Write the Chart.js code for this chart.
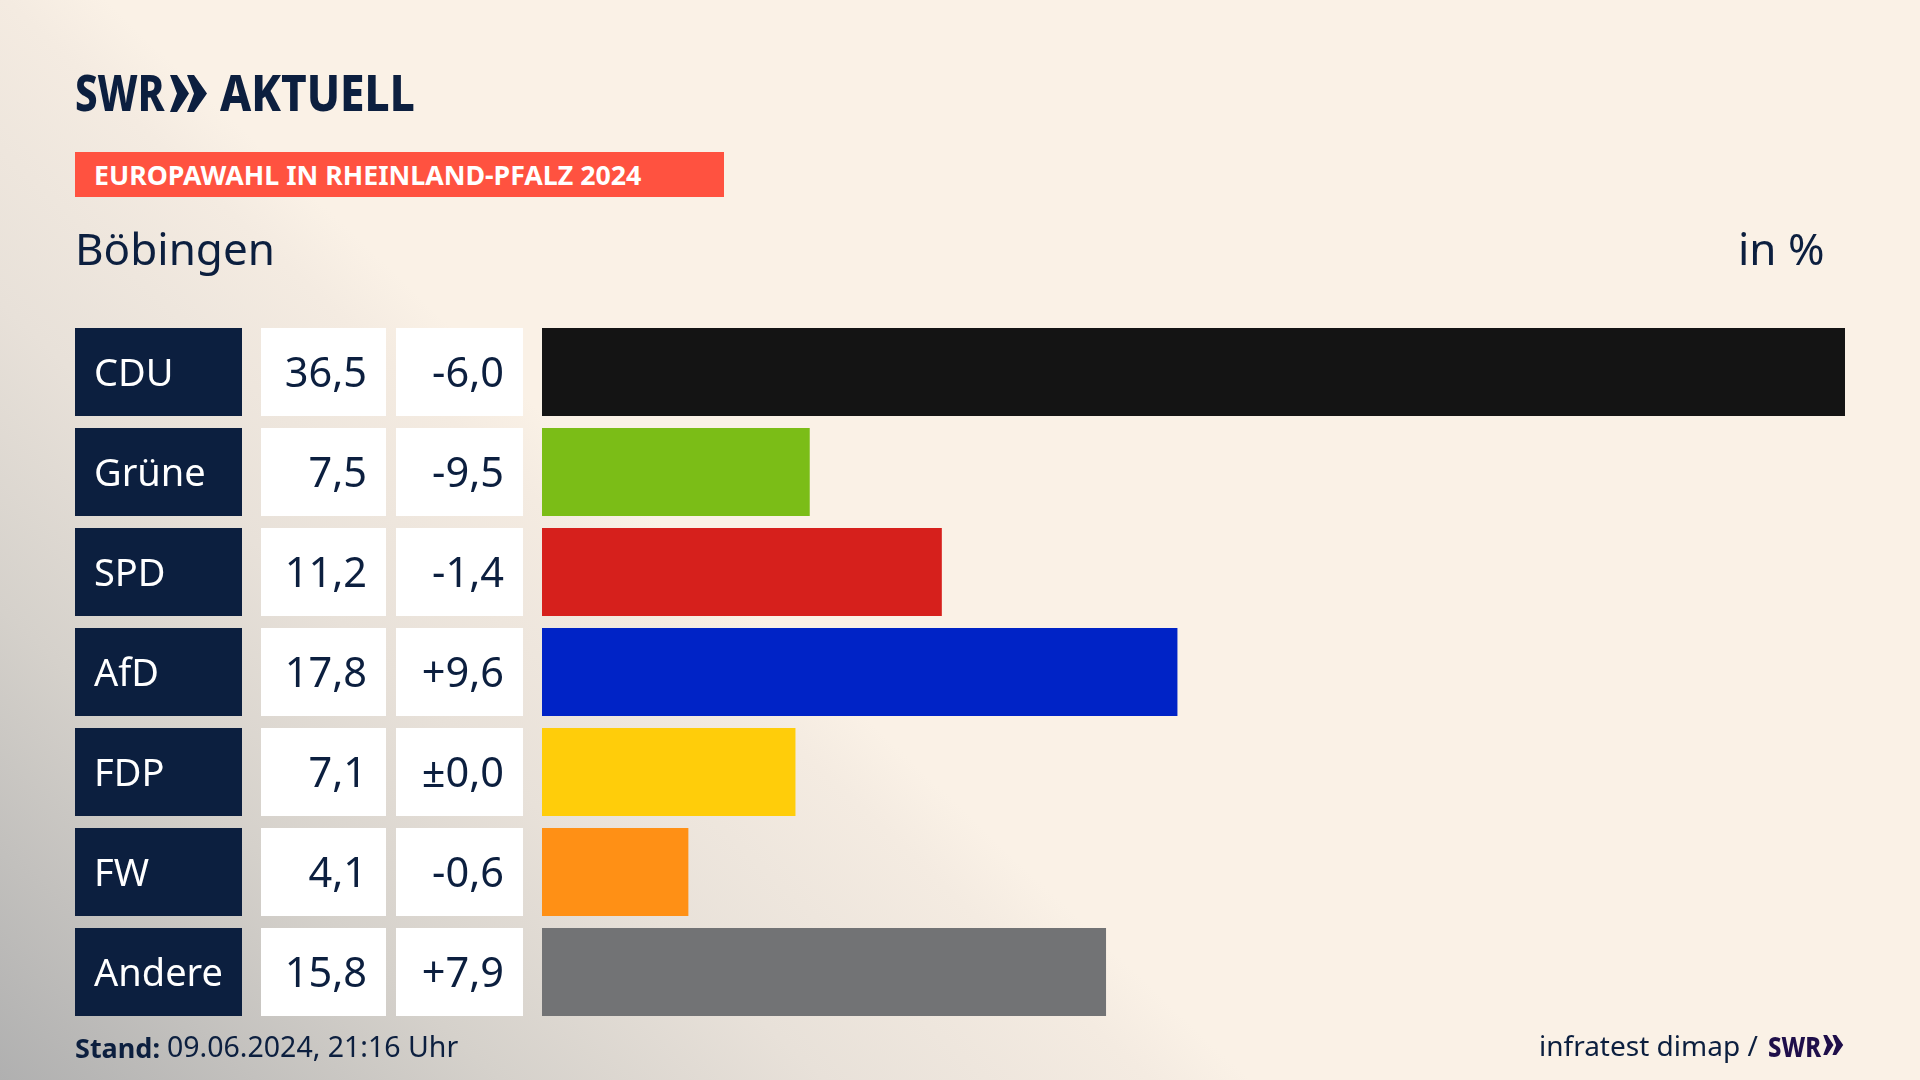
<!DOCTYPE html>
<html lang="de">
<head>
<meta charset="utf-8">
<title>Europawahl in Rheinland-Pfalz 2024 – Böbingen</title>
<script src="https://cdn.jsdelivr.net/npm/chart.js@4"></script>
<style>
html,body{margin:0;padding:0;width:1920px;height:1080px;overflow:hidden;}
body{position:relative;background:
 linear-gradient(to bottom left, #faf1e6 50%, #f4ebe1 54%, #e8e1d9 67%, #d5d1cb 80%, #b0b0b0 100%) left bottom / 1250px 1180px no-repeat,
 #faf1e6;font-family:"Noto Sans",sans-serif;color:#0c1f3f;}
canvas{position:absolute;left:0;top:0;}
.t{position:absolute;white-space:nowrap;line-height:1;transform-origin:0 0;}
svg{position:absolute;}
</style>
</head>
<body>
<canvas id="c" width="1920" height="1080"></canvas>
<div class="t" id="l1" style="left:75px;top:68px;font-size:49px;font-weight:800;transform:scaleX(.82)">SWR</div>
<svg style="left:170px;top:75px" width="38" height="37" viewBox="0 0 38 37"><path d="M0 0L7 0L19 18.5L7 37L0 37L7 18.5ZM17 0L24 0L37 18.5L24 37L17 37L24 18.5Z" fill="#0c1f3f"/></svg>
<div class="t" id="l2" style="left:220px;top:68px;font-size:49px;font-weight:800;transform:scaleX(.9)">AKTUELL</div>
<div style="position:absolute;left:75px;top:152px;width:649px;height:45px;background:#ff5240"></div>
<div class="t" style="left:94px;top:161px;font-size:27px;font-weight:700;color:#fff;transform:scaleX(.99)">EUROPAWAHL IN RHEINLAND-PFALZ 2024</div>
<div class="t" style="left:75px;top:226px;font-size:44px">Böbingen</div>
<div class="t" style="left:1738px;top:226px;font-size:44px">in %</div>
<div class="t" style="left:75px;top:1034px;font-size:27px;font-weight:700">Stand:</div>
<div class="t" style="left:167px;top:1032px;font-size:28.5px">09.06.2024, 21:16 Uhr</div>
<div class="t" style="left:1539px;top:1031px;font-size:28px">infratest dimap /</div>
<div class="t" style="left:1768px;top:1031px;font-size:29px;font-weight:800;color:#1f0f4a;transform:scaleX(.82)">SWR</div>
<svg style="left:1823px;top:1035px" width="21" height="20" viewBox="0 0 38 37"><path d="M0 0L7 0L19 18.5L7 37L0 37L7 18.5ZM17 0L24 0L37 18.5L24 37L17 37L24 18.5Z" fill="#1f0f4a"/></svg>
<script>
const parties = ["CDU","Grüne","SPD","AfD","FDP","FW","Andere"];
const shares = [36.5,7.5,11.2,17.8,7.1,4.1,15.8];
const changes = ["-6,0","-9,5","-1,4","+9,6","±0,0","-0,6","+7,9"];
const barColors = ["#141414","#7bbd17","#d6201c","#0023c6","#ffcd0a","#ff9015","#727375"];
const NAVY = "#0c1f3f";

const tablePlugin = {
  id:"table",
  beforeDraw(chart){
    const {ctx,scales:{y}} = chart;
    const h = chart.getDatasetMeta(0).data[0].height;
    ctx.save();
    parties.forEach((p,i)=>{
      const top = y.getPixelForValue(i)-h/2;
      ctx.fillStyle = NAVY; ctx.fillRect(75,top,167,h);
      ctx.fillStyle = "#fff"; ctx.fillRect(261,top,125,h); ctx.fillRect(396,top,127,h);
    });
    ctx.restore();
  },
  afterDraw(chart){
    const {ctx,scales:{y}} = chart;
    ctx.save();
    ctx.font = '41.5px "Noto Sans"';
    ctx.fillStyle = NAVY; ctx.textAlign = "right"; ctx.textBaseline = "middle";
    parties.forEach((p,i)=>{
      const c = y.getPixelForValue(i)+3;
      ctx.fillText(shares[i].toFixed(1).replace(".",","),367,c);
      ctx.fillText(changes[i],504,c);
    });
    ctx.restore();
  }
};

new Chart(document.getElementById("c"),{
  type:"bar",
  data:{labels:parties,datasets:[{data:shares,backgroundColor:barColors,barPercentage:.88,categoryPercentage:1}]},
  options:{
    indexAxis:"y",responsive:false,animation:false,devicePixelRatio:1,
    layout:{padding:{left:94,top:322,right:75,bottom:58}},
    plugins:{legend:{display:false},title:{display:false},tooltip:{enabled:false}},
    scales:{
      x:{display:false,min:0,max:36.5},
      y:{
        border:{display:false},grid:{display:false,drawTicks:false},
        afterFit(s){s.width=448;},
        ticks:{color:"#fff",crossAlign:"far",padding:0,labelOffset:3,font:{family:'"Noto Sans"',size:38},z:1}
      }
    }
  },
  plugins:[tablePlugin]
});
</script>
</body>
</html>
